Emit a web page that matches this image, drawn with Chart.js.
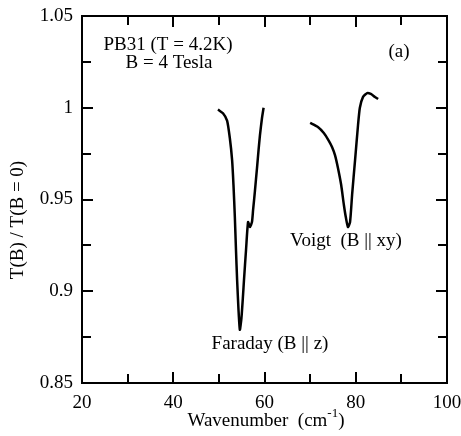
<!DOCTYPE html>
<html>
<head>
<meta charset="utf-8">
<script src="https://cdn.jsdelivr.net/npm/chart.js@4"></script>
<style>
  html, body { margin: 0; padding: 0; background: #fff; }
  #wrap { width: 461px; height: 436px; }
</style>
</head>
<body>
<div id="wrap"><canvas id="spectrum"></canvas></div>
<script>
// PB31 transmission ratio, B = 4 T
const faraday_x = [49.8, 50.9, 51.8, 52.4, 52.9, 53.2, 53.5, 53.75, 54.0, 54.3, 54.6,
  54.95, 55.3, 55.5, 55.95, 56.4, 56.8, 57.25, 57.5, 57.9, 58.35, 58.7, 59.0, 59.45, 59.8];
const faraday_y = [0.999, 0.997, 0.993, 0.9835, 0.9715, 0.958, 0.9405, 0.9225, 0.906, 0.89, 0.879,
  0.8855, 0.898, 0.906, 0.9225, 0.9377, 0.935, 0.9377, 0.9443, 0.9546, 0.967, 0.977, 0.985, 0.9944, 1.0];

const voigt_x = [70.0, 71.7, 73.0, 74.1, 74.8, 75.45, 76.1, 76.8, 77.4, 77.85, 78.3,
  78.75, 79.2, 79.85, 80.5, 80.9, 81.6, 82.5, 83.3, 84.2, 84.9];
const voigt_y = [0.9917, 0.9895, 0.9862, 0.982, 0.9786, 0.9742, 0.9672, 0.958, 0.947, 0.94, 0.935,
  0.9377, 0.9525, 0.9715, 0.9906, 1.0, 1.0059, 1.008, 1.0075, 1.0059, 1.0048];

const x_ticks = [20, 40, 60, 80, 100];
const y_ticks = [0.85, 0.9, 0.95, 1, 1.05];

const FONT = 'Liberation Serif';

function toPoints(xs, ys) {
  return xs.map((x, i) => ({ x: x, y: ys[i] }));
}

// frame, inward ticks and text labels
const framePlugin = {
  id: 'frame',
  afterDraw(chart) {
    const { ctx, chartArea: a, scales } = chart;
    const xs = scales.x, ys = scales.y;
    ctx.save();
    ctx.strokeStyle = '#000';
    ctx.lineWidth = 2;
    ctx.strokeRect(a.left, a.top, a.right - a.left, a.bottom - a.top);

    ctx.beginPath();
    for (let v = 30; v < 100; v += 10) {
      const len = v % 20 === 0 ? 11 : 9;
      const px = Math.round(xs.getPixelForValue(v));
      ctx.moveTo(px, a.bottom); ctx.lineTo(px, a.bottom - len);
      ctx.moveTo(px, a.top); ctx.lineTo(px, a.top + len);
    }
    for (let i = 1; i < 8; i++) {
      const v = 0.85 + i * 0.025;
      const len = i % 2 === 0 ? 11 : 9;
      const py = Math.round(ys.getPixelForValue(v));
      ctx.moveTo(a.left, py); ctx.lineTo(a.left + len, py);
      ctx.moveTo(a.right, py); ctx.lineTo(a.right - len, py);
    }
    ctx.stroke();

    ctx.fillStyle = '#000';
    ctx.textAlign = 'center';
    ctx.textBaseline = 'middle';
    ctx.font = '19px "' + FONT + '"';
    ctx.fillText('PB31 (T = 4.2K)', 168, 45);
    ctx.fillText('B = 4 Tesla', 169, 63);
    ctx.fillText('(a)', 399, 52);
    ctx.fillText('Faraday (B || z)', 270, 344);
    ctx.fillText('Voigt  (B || xy)', 346, 241);

    // x title with superscript
    const main = 'Wavenumber  (cm';
    const w1 = ctx.measureText(main).width;
    ctx.font = '13px "' + FONT + '"';
    const w2 = ctx.measureText('-1').width;
    ctx.font = '19px "' + FONT + '"';
    const w3 = ctx.measureText(')').width;
    let sx = 266 - (w1 + w2 + w3) / 2;
    ctx.textAlign = 'left';
    ctx.fillText(main, sx, 421);
    ctx.font = '13px "' + FONT + '"';
    ctx.fillText('-1', sx + w1, 414);
    ctx.font = '19px "' + FONT + '"';
    ctx.fillText(')', sx + w1 + w2, 421);

    // y title
    ctx.translate(18, 220);
    ctx.rotate(-Math.PI / 2);
    ctx.textAlign = 'center';
    ctx.fillText('T(B) / T(B = 0)', 0, 0);
    ctx.restore();
  }
};

const ctx = document.getElementById('spectrum').getContext('2d');

new Chart(ctx, {
  type: 'scatter',
  data: {
    datasets: [
      {
        label: 'Faraday',
        data: toPoints(faraday_x, faraday_y),
        showLine: true,
        borderColor: '#000',
        borderWidth: 2.5,
        pointRadius: 0,
        tension: 0.2,
      },
      {
        label: 'Voigt',
        data: toPoints(voigt_x, voigt_y),
        showLine: true,
        borderColor: '#000',
        borderWidth: 2.5,
        pointRadius: 0,
        tension: 0.2,
      },
    ],
  },
  options: {
    responsive: true,
    maintainAspectRatio: false,
    animation: false,
    layout: { padding: { top: 16, right: 14, left: 0, bottom: 0 } },
    plugins: {
      legend: { display: false },
      tooltip: { enabled: false },
    },
    scales: {
      x: {
        type: 'linear',
        min: 20,
        max: 100,
        afterBuildTicks: scale => {
          scale.ticks = x_ticks.map(v => ({ value: v }));
        },
        afterFit: scale => {
          scale.height = 53;
          scale.paddingLeft = 0;
          scale.paddingRight = 0;
        },
        grid: { display: false, drawTicks: false },
        border: { display: false },
        ticks: {
          color: '#000',
          padding: 9,
          maxRotation: 0,
          font: { family: FONT, size: 19 },
        },
      },
      y: {
        type: 'linear',
        min: 0.85,
        max: 1.05,
        afterBuildTicks: scale => {
          scale.ticks = y_ticks.map(v => ({ value: v }));
        },
        afterFit: scale => {
          scale.width = 82;
          scale.paddingTop = 0;
          scale.paddingBottom = 0;
        },
        grid: { display: false, drawTicks: false },
        border: { display: false },
        ticks: {
          color: '#000',
          padding: 9,
          font: { family: FONT, size: 19 },
          callback: v => String(Number(v.toFixed(2))),
        },
      },
    },
  },
  plugins: [framePlugin],
});
</script>
</body>
</html>
